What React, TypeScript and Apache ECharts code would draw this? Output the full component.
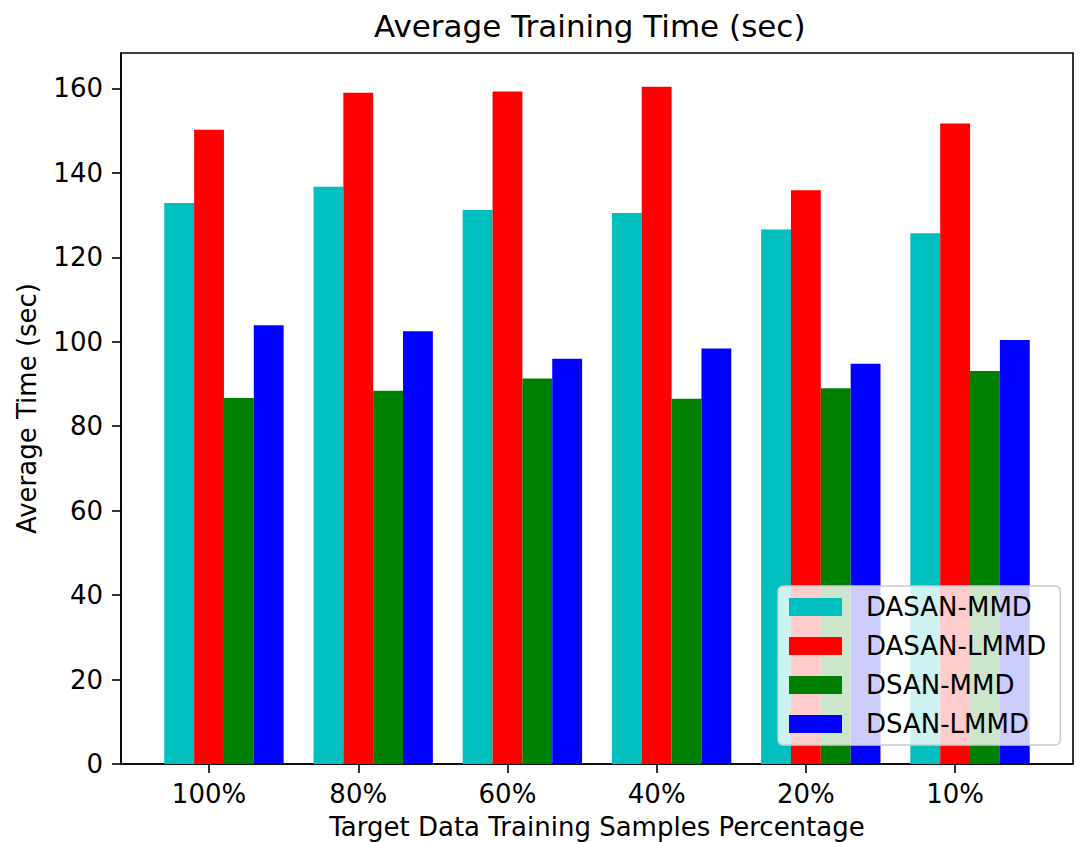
import React, { useEffect, useRef } from "react";
import * as echarts from "echarts";

const categories = ["100%", "80%", "60%", "40%", "20%", "10%"];
const seriesNames = ["DASAN-MMD", "DASAN-LMMD", "DSAN-MMD", "DSAN-LMMD"];
const dasanMmd = [132.9, 136.7, 131.2, 130.5, 126.6, 125.7];
const dasanLmmd = [150.2, 159.0, 159.3, 160.4, 135.9, 151.7];
const dsanMmd = [86.7, 88.4, 91.3, 86.5, 89.0, 93.1];
const dsanLmmd = [103.9, 102.5, 96.0, 98.4, 94.8, 100.4];
const yTicks = [0, 20, 40, 60, 80, 100, 120, 140, 160];

const colors = ["#00bfbf", "#ff0000", "#008000", "#0000ff"];
const FONT = "DejaVu Sans";

export default function App() {
  const ref = useRef<HTMLDivElement>(null);
  useEffect(() => {
    if (!ref.current) return;
    const chart = echarts.init(ref.current, null, { renderer: "svg" });
    const allValues = [dasanMmd, dasanLmmd, dsanMmd, dsanLmmd];
    const offsets = [-0.2, 0, 0.2, 0.4];
    const barW = 0.2;
    const xMin = -0.3 - 0.05 * 5.8;
    const xMax = 5.5 + 0.05 * 5.8;
    const gridLeft = 121;
    const gridRight = 8;
    const plotW = 1081 - gridLeft - gridRight;
    const barPx = (barW / (xMax - xMin)) * plotW;
    chart.setOption({
      animation: false,
      backgroundColor: "#ffffff",
      textStyle: { fontFamily: FONT },
      title: {
        text: "Average Training Time (sec)",
        left: 374,
        top: 10,
        padding: 0,
        textStyle: { fontFamily: FONT, fontSize: 31, fontWeight: "normal", color: "#000" },
      },
      grid: {
        left: gridLeft,
        right: gridRight,
        top: 53,
        bottom: 78,
        outerBoundsMode: "none",
        containLabel: false,
        show: true,
        borderColor: "#000",
        borderWidth: 1.6,
        backgroundColor: "transparent",
      },
      legend: {
        orient: "vertical",
        left: 778,
        top: 586,
        data: seriesNames,
        itemWidth: 53,
        itemHeight: 18,
        itemGap: 13,
        padding: [8, 14, 8, 11],
        backgroundColor: "rgba(255,255,255,0.8)",
        borderColor: "#cccccc",
        borderWidth: 1.5,
        borderRadius: 5,
        icon: "rect",
        textStyle: { fontFamily: FONT, fontSize: 26, color: "#000", padding: [0, 0, 0, 19], lineHeight: 26 },
      },
      xAxis: {
        type: "value",
        min: xMin,
        max: xMax,
        splitLine: { show: false },
        axisLine: { show: true, onZero: false, lineStyle: { color: "#000", width: 1.6 } },
        axisTick: { show: true, length: 9, lineStyle: { color: "#000", width: 1.6 }, customValues: categories.map((_, i) => i) },
        axisLabel: {
          customValues: categories.map((_, i) => i),
          formatter: (v: number) => categories[Math.round(v)] ?? "",
          fontFamily: FONT,
          fontSize: 26,
          color: "#000",
          margin: 17,
        },
        name: "Target Data Training Samples Percentage",
        nameLocation: "middle",
        nameGap: 50,
        nameTextStyle: { fontFamily: FONT, fontSize: 26, color: "#000", verticalAlign: "top" },
      },
      yAxis: {
        type: "value",
        min: 0,
        max: 168.4,
        interval: 20,
        splitLine: { show: false },
        axisLine: { show: true, onZero: false, lineStyle: { color: "#000", width: 1.6 } },
        axisTick: { show: true, length: 9, lineStyle: { color: "#000", width: 1.6 }, customValues: yTicks },
        axisLabel: {
          customValues: yTicks,
          fontFamily: FONT,
          fontSize: 26,
          color: "#000",
          margin: 18,
        },
        name: "Average Time (sec)",
        nameLocation: "middle",
        nameGap: 81,
        nameTextStyle: { fontFamily: FONT, fontSize: 26, color: "#000" },
      },
      series: seriesNames.map((name, s) => ({
        name,
        type: "bar",
        barWidth: barPx,
        barGap: "-100%",
        itemStyle: { color: colors[s] },
        data: allValues[s].map((v, i) => [i + offsets[s], v]),
      })),
    });
    return () => chart.dispose();
  }, []);
  return (
    <div
      ref={ref}
      style={{ position: "fixed", left: 0, top: 0, width: 1081, height: 842, background: "#fff" }}
    />
  );
}
